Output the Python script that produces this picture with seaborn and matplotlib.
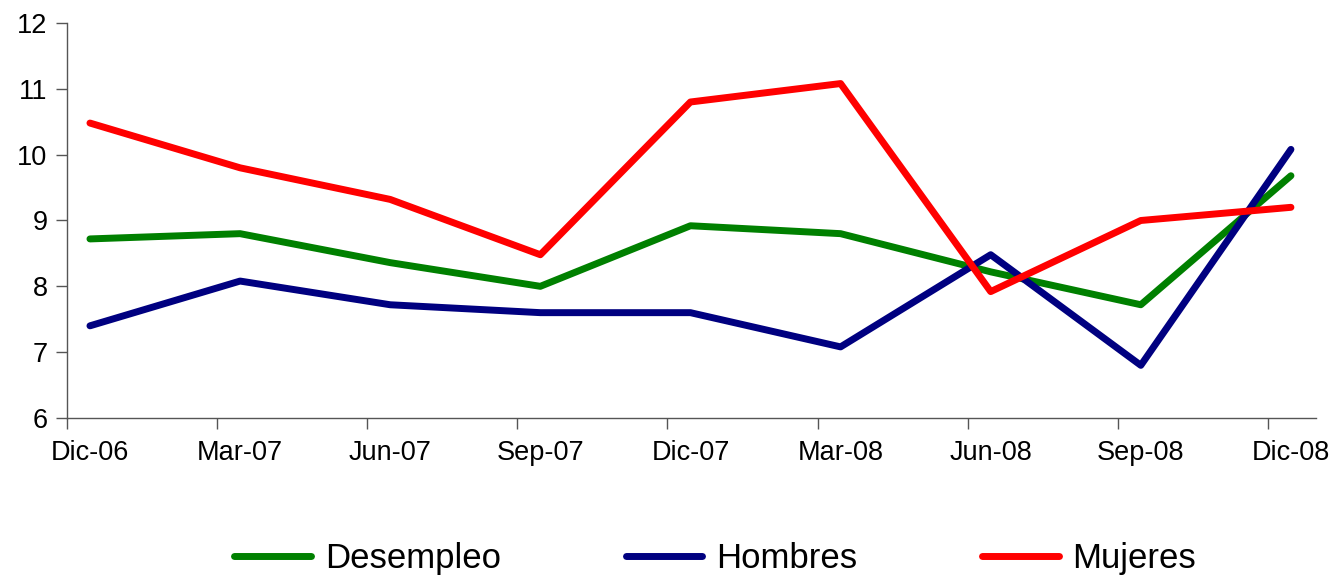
import numpy as np
import pandas as pd
import matplotlib
matplotlib.use("Agg")
import matplotlib.pyplot as plt
import seaborn as sns

# Data
periodos = ["Dic-06", "Mar-07", "Jun-07", "Sep-07", "Dic-07", "Mar-08", "Jun-08", "Sep-08", "Dic-08"]
desempleo = [8.72, 8.80, 8.36, 8.00, 8.92, 8.80, 8.22, 7.72, 9.68]
hombres = [7.40, 8.08, 7.72, 7.60, 7.60, 7.08, 8.48, 6.80, 10.08]
mujeres = [10.48, 9.80, 9.32, 8.48, 10.80, 11.08, 7.92, 9.00, 9.20]

series = {"Desempleo": desempleo, "Hombres": hombres, "Mujeres": mujeres}
colores = {"Desempleo": "#008000", "Hombres": "#000080", "Mujeres": "#FF0000"}

pos = np.arange(len(periodos))
df = pd.concat(
    [pd.DataFrame({"pos": pos, "valor": v, "serie": k}) for k, v in series.items()],
    ignore_index=True,
)

sns.set_style("white")
plt.rcParams["font.family"] = ["Liberation Sans", "DejaVu Sans"]
plt.rcParams["text.color"] = "black"

fig = plt.figure(figsize=(13.37, 5.82), dpi=100)
ax = fig.add_axes([0.0501, 0.2818, 0.9342, 0.6787])

lw = 5
sns.lineplot(data=df, x="pos", y="valor", hue="serie", palette=colores,
             linewidth=lw, ax=ax, legend=False, solid_capstyle="round")

off = 0.153
ax.set_xlim(-off, len(periodos) - 1 + 0.167)
ax.set_ylim(6, 12)
ax.set_yticks(range(6, 13))
ax.tick_params(axis="y", left=True, labelsize=19.5, labelcolor="black", length=8, width=1,
               color="#555555", direction="out", pad=6)

# tick marks between points, labels under the points
ax.set_xticks(pos - off)
ax.set_xticklabels([])
ax.set_xticks(pos, minor=True)
ax.set_xticklabels(periodos, minor=True)
ax.tick_params(axis="x", which="major", bottom=True, length=8, width=1, color="#555555", direction="out")
ax.tick_params(axis="x", which="minor", bottom=True, length=0, labelsize=19.5, labelcolor="black", pad=16)
ax.set_xlabel("")
ax.set_ylabel("")

for s in ["top", "right"]:
    ax.spines[s].set_visible(False)
for s in ["left", "bottom"]:
    ax.spines[s].set_color("#555555")
    ax.spines[s].set_linewidth(1)

handles = [plt.Line2D([], [], color=colores[k], linewidth=lw, solid_capstyle="round") for k in series]
fig.legend(handles, list(series.keys()), loc="center", bbox_to_anchor=(0.535, 0.04),
           ncol=3, frameon=False, fontsize=25, handlelength=2.2, handletextpad=0.4,
           columnspacing=3.6, labelcolor="black")

fig.savefig("out.png", dpi=100)
